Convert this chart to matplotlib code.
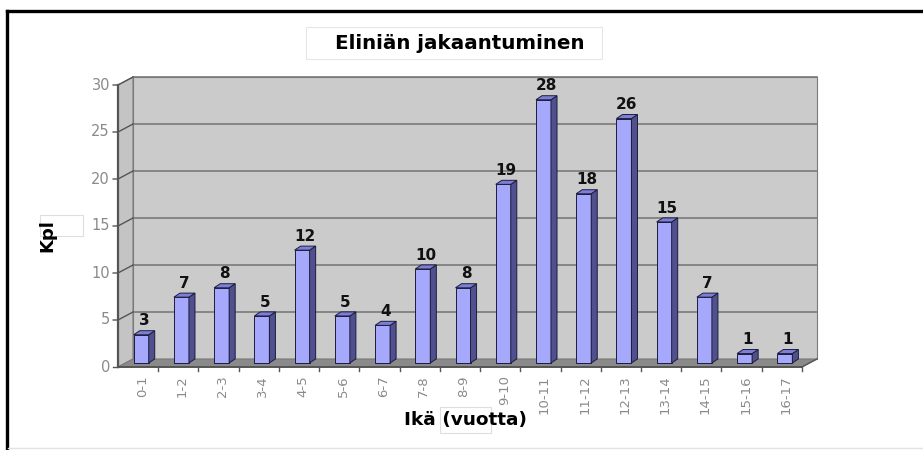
import matplotlib

matplotlib.use("Agg")
import matplotlib.pyplot as plt
from matplotlib.lines import Line2D
from matplotlib.patches import Polygon, Rectangle

# data
categories = ["0-1", "1-2", "2-3", "3-4", "4-5", "5-6", "6-7", "7-8", "8-9", "9-10",
              "10-11", "11-12", "12-13", "13-14", "14-15", "15-16", "16-17"]
counts = [3, 7, 8, 5, 12, 5, 4, 10, 8, 19, 28, 18, 26, 15, 7, 1, 1]
y_ticks = [0, 5, 10, 15, 20, 25, 30]
title = "Eliniän jakaantuminen"
x_label = "Ikä (vuotta)"
y_label = "Kpl"

# pseudo 3-D geometry (data units)
DX, DY = 0.373, 0.85          # depth of the whole plot box
FX, FY = 0.39, 0.43           # front face of bars inside the box
BW = 0.373                    # bar front width
BDX, BDY = 0.15, 0.43         # bar depth
YMAX = 30

FRONT = "#a6a8fb"
SIDE = "#50508f"
TOP = "#7c7ed8"
EDGE = "#1c1c3c"
WALL = "#cbcbcb"
SIDEWALL = "#c4c4c4"
FLOOR = "#8a8a8a"
GRID = "#7a7a7a"
TICKTXT = "#8a8a8a"

W, H = 923, 450
fig = plt.figure(figsize=(W / 100, H / 100), dpi=100)

# frame / boxes in pixel coordinates
bg = fig.add_axes([0, 0, 1, 1])
bg.set_xlim(0, W)
bg.set_ylim(H, 0)
bg.axis("off")
bg.add_line(Line2D([6.5, W], [10.5, 10.5], color="black", lw=2.4))
bg.add_line(Line2D([6.5, 6.5], [10.5, H], color="black", lw=2.4))
bg.add_line(Line2D([8, W], [448, 448], color="#e2e2e2", lw=1))
bg.add_patch(Rectangle((306, 27), 296, 32, fc="white", ec="#e6e6e6", lw=0.8))
bg.text(460, 43.5, title, ha="center", va="center", fontsize=14.3,
        fontweight="bold", family="DejaVu Sans")
bg.add_patch(Rectangle((40, 215), 43, 21, fc="none", ec="#dedede", lw=0.8))
bg.text(47, 236, y_label, ha="center", va="center", rotation=90, fontsize=13,
        fontweight="bold", family="DejaVu Sans")
bg.add_patch(Rectangle((440, 407), 51, 26, fc="none", ec="#dedede", lw=0.8))
bg.text(465.5, 420, x_label, ha="center", va="center", fontsize=13.3,
        fontweight="bold", family="DejaVu Sans")

n = len(categories)
x0, x1 = 118, 822
ybase, ppu = 367, 9.4
ax = fig.add_axes([x0 / W, (H - ybase) / H, (x1 - x0) / W, 31 * ppu / H])
ax.set_xlim(0, n + 0.5)
ax.set_ylim(0, 31)
ax.axis("off")

# walls and floor
ax.add_patch(Polygon([(DX, DY), (n + DX, DY), (n + DX, YMAX + DY), (DX, YMAX + DY)],
                     closed=True, fc=WALL, ec=GRID, lw=0.8, zorder=1))
ax.add_patch(Polygon([(0, 0), (DX, DY), (DX, YMAX + DY), (0, YMAX)],
                     closed=True, fc=SIDEWALL, ec=GRID, lw=0.8, zorder=1))
ax.add_patch(Polygon([(0, 0), (n, 0), (n + DX, DY), (DX, DY)],
                     closed=True, fc=FLOOR, ec=GRID, lw=0.8, zorder=2))
for t in y_ticks[1:]:
    ax.plot([DX, n + DX], [t + DY, t + DY], color=GRID, lw=1.2, zorder=1.5)
    ax.plot([-0.12, 0, DX], [t, t, t + DY], color="#555555", lw=1.0, zorder=3, clip_on=False)
    ax.text(-0.2, t, str(t), ha="right", va="center", fontsize=10.5, color=TICKTXT)
ax.plot([-0.12, 0], [0, 0], color="#555555", lw=1.0, zorder=3, clip_on=False)
ax.text(-0.2, 0, "0", ha="right", va="center", fontsize=10.5, color=TICKTXT)

# axes lines
ax.plot([0, 0], [0, YMAX], color="#555555", lw=1.6, zorder=4, clip_on=False)
ax.plot([0, n], [0, 0], color="#555555", lw=1.4, zorder=4, clip_on=False)
ax.plot([n, n + DX], [0, DY], color="#555555", lw=1.0, zorder=4, clip_on=False)
for i in range(1, n + 1):
    ax.plot([i, i], [0, -0.45], color="#555555", lw=1.0, zorder=4, clip_on=False)

# bars: front faces from ax.bar, side/top faces as polygons
lefts = [i + FX for i in range(n)]
ax.bar(lefts, counts, width=BW, bottom=FY, align="edge",
       color=FRONT, edgecolor=EDGE, linewidth=0.7, zorder=5)
for xl, v in zip(lefts, counts):
    xr = xl + BW
    top = v + FY
    ax.add_patch(Polygon([(xr, FY), (xr + BDX, FY + BDY), (xr + BDX, top + BDY), (xr, top)],
                         closed=True, fc=SIDE, ec=EDGE, lw=0.7, zorder=5))
    ax.add_patch(Polygon([(xl, top), (xr, top), (xr + BDX, top + BDY), (xl + BDX, top + BDY)],
                         closed=True, fc=TOP, ec=EDGE, lw=0.7, zorder=5))
    ax.text(xl + (BW + BDX) / 2, top + BDY + 0.25, str(v), ha="center", va="bottom",
            fontsize=11, fontweight="bold", color="#111111", zorder=6)

for i, lab in enumerate(categories):
    ax.text(i + 0.6, -0.9, lab, rotation=90, ha="center", va="top",
            fontsize=9.5, color=TICKTXT, clip_on=False)

fig.savefig("out.png", dpi=100)
